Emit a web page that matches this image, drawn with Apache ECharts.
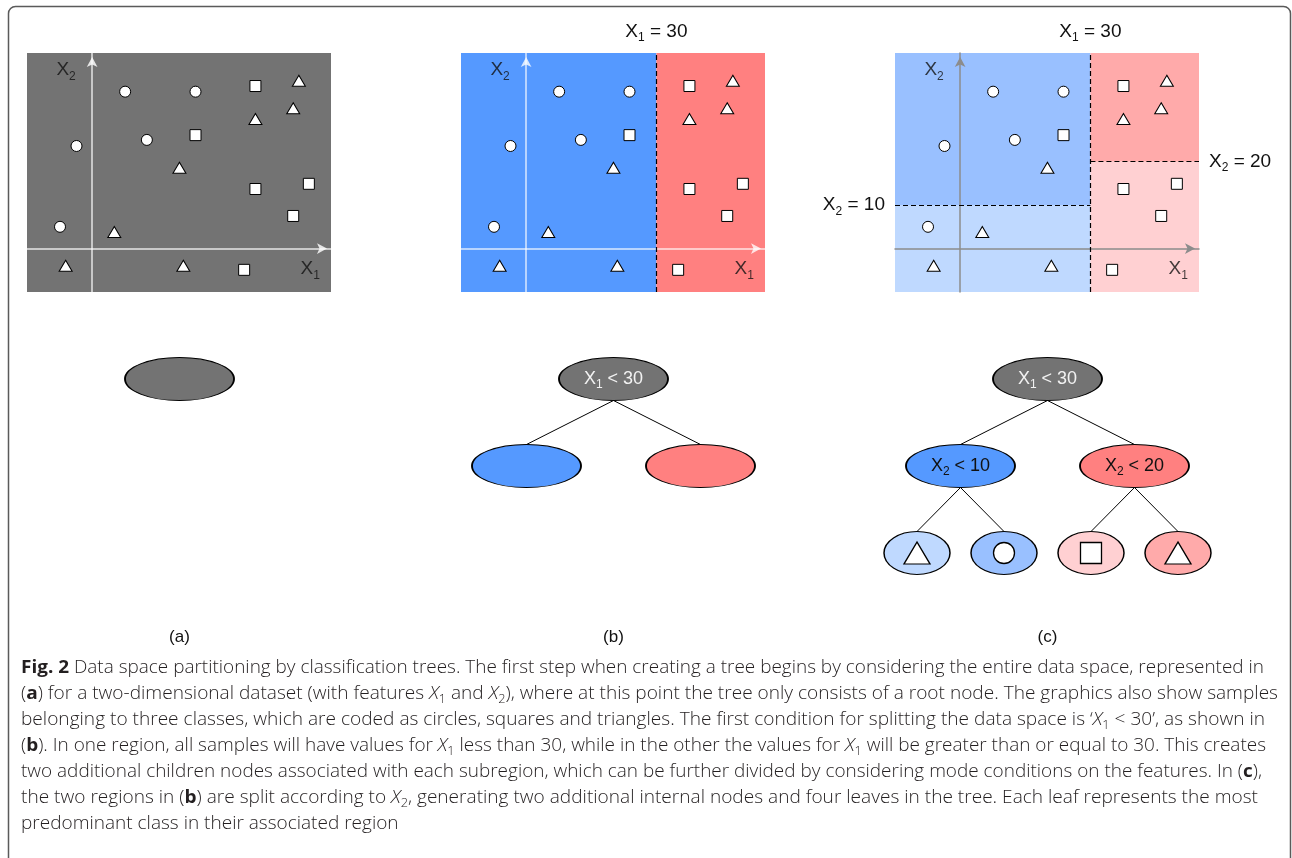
<!DOCTYPE html>
<html><head><meta charset="utf-8">
<script src="https://cdn.jsdelivr.net/npm/echarts@6/dist/echarts.min.js"></script>
<style>html,body{margin:0;padding:0;background:#fff}#c{width:1292px;height:858px}</style>
</head><body><div id="c"></div>
<script>
// ---------------- data ----------------
const circles   = [[7.6,36.1],[23.8,36.1],[-3.6,23.6],[12.6,25.0],[-7.4,5.0]];
const squares   = [[37.6,37.4],[23.8,26.1],[37.6,13.7],[49.9,14.9],[46.3,7.5],[35.0,-4.9]];
const triangles = [[47.6,38.6],[46.3,32.3],[37.6,29.8],[20.1,18.6],[5.1,3.8],[-6.1,-3.95],[21.0,-3.95]];
const xRange = [-15, 55];
const yRange = [-10, 45];
const splitX1 = 30;
const splitX2Left = 10;
const splitX2Right = 20;
const panelTags = ['(a)', '(b)', '(c)'];
const axisNames = ['{x|X}{s|1}', '{x|X}{s|2}'];
const axisNameAt = [[50.2, -4.7], [-6.0, 41.1]];   // where the X1 / X2 names sit, in data units

// tree structure per panel (slot = horizontal leaf slot, level = depth)
const treeSlots   = [[1.5], [1.5, 0.5, 2.5], [1.5, 0.5, 2.5, 0, 1, 2, 3]];
const treeLevels  = [[0], [0, 1, 1], [0, 1, 1, 2, 2, 2, 2]];
const treeParents = [[-1], [-1, 0, 0], [-1, 0, 0, 1, 1, 2, 2]];
const treeLabels  = [
  [''],
  ['{x|X}{s|1}{x| < 30}', '', ''],
  ['{x|X}{s|1}{x| < 30}', '{x|X}{s|2}{x| < 10}', '{x|X}{s|2}{x| < 20}', '', '', '', '']
];
const treeRegion  = [['gray'], ['gray', 'blue', 'red'], ['gray', 'blue', 'red', 'blue3', 'blue2', 'red3', 'red2']];
const leafClass   = [[null], [null, null, null], [null, null, null, 'triangle', 'circle', 'square', 'triangle']];

const captionLines = [
  '{b|Fig. 2} Data space partitioning by classification trees. The first step when creating a tree begins by considering the entire data space, represented in',
  '({b|a}) for a two-dimensional dataset (with features {i|X}{s|1} and {i|X}{s|2}), where at this point the tree only consists of a root node. The graphics also show samples',
  'belonging to three classes, which are coded as circles, squares and triangles. The first condition for splitting the data space is \u2018{i|X}{s|1} < 30\u2019, as shown in',
  '({b|b}). In one region, all samples will have values for {i|X}{s|1} less than 30, while in the other the values for {i|X}{s|1} will be greater than or equal to 30. This creates',
  'two additional children nodes associated with each subregion, which can be further divided by considering mode conditions on the features. In ({b|c}),',
  'the two regions in ({b|b}) are split according to {i|X}{s|2}, generating two additional internal nodes and four leaves in the tree. Each leaf represents the most',
  'predominant class in their associated region'
];

// ---------------- styles / layout ----------------
const fills = { gray:'#737373', blue:'#5599ff', red:'#ff8080', blue2:'#99c0ff', blue3:'#bfd9ff', red2:'#ffaaaa', red3:'#ffd0d2' };
const axisColors = ['rgba(255,255,255,0.82)', 'rgba(255,255,255,0.78)', '#8c8c8c'];
const STEP = 434;
const FONT = 'Liberation Sans, Arial, Helvetica, sans-serif';
const NODE_H = 43, NODE_W = 109, LEAF_W = 66;
const captionEnds = [1264, 1278, 1265, 1266, 1262, 1258, null];

function richSet(color, size, sub) {
  size = size || 18; sub = sub || 12;
  return {
    x: { fontSize: size, fontFamily: FONT, color: color, lineHeight: size + 6 },
    s: { fontSize: sub, fontFamily: FONT, color: color, lineHeight: sub - 2, verticalAlign: 'bottom' }
  };
}

// regions per panel
const regions = [
  [[xRange[0], yRange[0], xRange[1], yRange[1], 'gray']],
  [[xRange[0], yRange[0], splitX1, yRange[1], 'blue'], [splitX1, yRange[0], xRange[1], yRange[1], 'red']],
  [[xRange[0], splitX2Left, splitX1, yRange[1], 'blue2'], [xRange[0], yRange[0], splitX1, splitX2Left, 'blue3'],
   [splitX1, splitX2Right, xRange[1], yRange[1], 'red2'], [splitX1, yRange[0], xRange[1], splitX2Right, 'red3']]
];

const lblRich = richSet('#111', 19, 12);
const vLine = {
  xAxis: splitX1,
  label: { show: true, position: 'end', distance: 9, formatter: '{x|X}{s|1}{x| = ' + splitX1 + '}', rich: lblRich }
};
const hLineLeft = [
  { coord: [xRange[0], splitX2Left], label: { show: true, position: 'start', distance: 10, formatter: '{x|X}{s|2}{x| = ' + splitX2Left + '}', rich: lblRich } },
  { coord: [splitX1, splitX2Left] }
];
const hLineRight = [
  { coord: [splitX1, splitX2Right], label: { show: true, position: 'end', distance: 10, formatter: '{x|X}{s|2}{x| = ' + splitX2Right + '}', rich: lblRich } },
  { coord: [xRange[1], splitX2Right] }
];
const splitLines = [[], [vLine], [vLine, hLineLeft, hLineRight]];

const grids = [], xAxes = [], yAxes = [], series = [], graphics = [];

for (let i = 0; i < 3; i++) {
  grids.push({ left: 27 + STEP * i, top: 53, width: 304, height: 239, containLabel: false, outerBoundsMode: 'none' });
}
for (let i = 0; i < 3; i++) {
  grids.push({ left: 5.5 + STEP * i, top: 335.5, width: 348, height: 261, containLabel: false, outerBoundsMode: 'none' });
}
for (let i = 0; i < 3; i++) {
  const line = { show: true, onZero: true, symbol: ['none', 'arrow'], symbolSize: [8, 10], symbolOffset: [0, -4],
                 lineStyle: { color: axisColors[i], width: 1.5 } };
  xAxes.push({ gridIndex: i, type: 'value', min: xRange[0], max: xRange[1], z: 2, axisLine: line,
               axisTick: { show: false }, axisLabel: { show: false }, splitLine: { show: false } });
  yAxes.push({ gridIndex: i, type: 'value', min: yRange[0], max: yRange[1], z: 2, axisLine: line,
               axisTick: { show: false }, axisLabel: { show: false }, splitLine: { show: false } });
}
for (let i = 0; i < 3; i++) {
  xAxes.push({ gridIndex: 3 + i, type: 'value', min: -0.5, max: 3.5, show: false });
  yAxes.push({ gridIndex: 3 + i, type: 'value', min: -0.5, max: 2.5, inverse: true, show: false });
}

for (let i = 0; i < 3; i++) {
  // background regions
  series.push({
    type: 'scatter', xAxisIndex: i, yAxisIndex: i, data: [], z: 1, silent: true,
    markArea: {
      silent: true, label: { show: false },
      data: regions[i].map(r => [{ coord: [r[0], r[1]], itemStyle: { color: fills[r[4]], opacity: 1, borderWidth: 0 } }, { coord: [r[2], r[3]] }])
    }
  });
  // split lines
  if (splitLines[i].length) {
    series.push({
      type: 'scatter', xAxisIndex: i, yAxisIndex: i, data: [], z: 3, silent: true,
      markLine: { silent: true, symbol: ['none', 'none'], animation: false,
        lineStyle: { color: '#000', width: 1.2, type: [5, 3] }, emphasis: { disabled: true },
        data: splitLines[i] }
    });
  }
  // axis names (X1, X2)
  series.push({
    type: 'scatter', xAxisIndex: i, yAxisIndex: i, z: 5, silent: true, symbolSize: 0,
    data: axisNameAt.map((p, k) => ({ value: p, label: { show: true, position: 'inside', formatter: axisNames[k], rich: lblRich } }))
  });
  // samples
  const common = { type: 'scatter', xAxisIndex: i, yAxisIndex: i, z: 4, silent: true,
                   itemStyle: { color: '#fff', borderColor: '#000', borderWidth: 1, opacity: 1 } };
  series.push(Object.assign({}, common, { name: 'circle', symbol: 'circle', symbolSize: 11, data: circles }));
  series.push(Object.assign({}, common, { name: 'square', symbol: 'rect', symbolSize: 11, data: squares }));
  series.push(Object.assign({}, common, { name: 'triangle', symbol: 'triangle', symbolSize: [13, 11], data: triangles }));

  // tree edges
  const edges = [];
  treeParents[i].forEach((p, k) => { if (p >= 0) edges.push([treeSlots[i][p], treeLevels[i][p], treeSlots[i][k], treeLevels[i][k]]); });
  if (edges.length) {
    series.push({
      type: 'custom', xAxisIndex: 3 + i, yAxisIndex: 3 + i, z: 2, silent: true,
      encode: { x: [0, 2], y: [1, 3] },
      data: edges,
      renderItem: function (params, api) {
        const p = api.coord([api.value(0), api.value(1)]);
        const c = api.coord([api.value(2), api.value(3)]);
        return { type: 'line', shape: { x1: p[0], y1: p[1] + NODE_H / 2, x2: c[0], y2: c[1] - NODE_H / 2 },
                 style: { stroke: '#000', lineWidth: 1 } };
      }
    });
  }
  // tree nodes
  series.push({
    type: 'scatter', xAxisIndex: 3 + i, yAxisIndex: 3 + i, z: 3, silent: true, symbol: 'circle',
    data: treeSlots[i].map((s, k) => ({
      value: [s, treeLevels[i][k]],
      symbolSize: [leafClass[i][k] ? LEAF_W : NODE_W, NODE_H],
      itemStyle: { color: fills[treeRegion[i][k]], borderColor: '#000', borderWidth: 1.2, opacity: 1 },
      label: { show: !!treeLabels[i][k], position: 'inside', formatter: treeLabels[i][k],
               rich: richSet(k === 0 ? '#f2f2f2' : '#111') }
    }))
  });
  // leaf class glyphs
  const leafData = [];
  leafClass[i].forEach((cl, k) => {
    if (!cl) return;
    const sym = cl === 'square' ? 'rect' : cl;
    const size = cl === 'triangle' ? [26, 22] : 21;
    leafData.push({ value: [treeSlots[i][k], treeLevels[i][k]], symbol: sym, symbolSize: size });
  });
  if (leafData.length) {
    series.push({
      type: 'scatter', xAxisIndex: 3 + i, yAxisIndex: 3 + i, z: 4, silent: true, data: leafData,
      itemStyle: { color: '#fff', borderColor: '#000', borderWidth: 1.3, opacity: 1 }
    });
  }

  // panel tags
  graphics.push({ type: 'text', x: 179.5 + STEP * i, y: 637, z: 10, silent: true,
    style: { text: panelTags[i], font: '17px ' + FONT, fill: '#111', align: 'center', verticalAlign: 'middle' } });
}

// frame
graphics.push({ type: 'rect', z: 0, silent: true, shape: { x: 8.5, y: 6.5, width: 1282, height: 900, r: 7 },
  style: { fill: 'none', stroke: '#5a5a5a', lineWidth: 1.5 } });

// caption
const CF = '"Open Sans", "Noto Sans", sans-serif';
const capFonts = { d: '300 18px ' + CF, b: 'bold 18px ' + CF, i: 'italic 300 18px ' + CF, s: '300 12px ' + CF };
const mctx = document.createElement('canvas').getContext('2d');
function richWidth(str) {
  let w = 0;
  str.replace(/\{(\w+)\|([^}]*)\}|([^{]+)/g, function (m, k, t, plain) {
    if (plain !== undefined) { mctx.font = capFonts.d; w += mctx.measureText(plain).width; }
    else { mctx.font = capFonts[k]; w += mctx.measureText(t).width; }
    return m;
  });
  return w;
}
const capColor = '#231f20';
const capRich = {
  b: { font: capFonts.b, fontFamily: CF, fontSize: 18, fontWeight: 'bold', fill: capColor, lineHeight: 24 },
  i: { font: capFonts.i, fontFamily: CF, fontSize: 18, fontWeight: 300, fontStyle: 'italic', fill: capColor, lineHeight: 24 },
  s: { font: capFonts.s, fontFamily: CF, fontSize: 12, fontWeight: 300, fill: capColor, lineHeight: 12, verticalAlign: 'bottom' }
};
const scales = captionLines.map((l, k) => captionEnds[k] ? (captionEnds[k] - 21) / richWidth(l) : null);
const valid = scales.filter(s => s);
const avgScale = valid.reduce((a, b) => a + b, 0) / valid.length;
captionLines.forEach((l, k) => {
  graphics.push({ type: 'text', x: 21, y: 668 + 26 * k, scaleX: scales[k] || avgScale, z: 10, silent: true,
    style: { text: l, rich: capRich, font: capFonts.d, fill: capColor,
             lineHeight: 24, align: 'left', verticalAlign: 'middle' } });
});

const chart = echarts.init(document.getElementById('c'), null, { renderer: 'canvas', width: 1292, height: 858 });
chart.setOption({
  animation: false,
  backgroundColor: '#fff',
  tooltip: { show: false },
  grid: grids, xAxis: xAxes, yAxis: yAxes, series: series, graphic: graphics
});
</script></body></html>
